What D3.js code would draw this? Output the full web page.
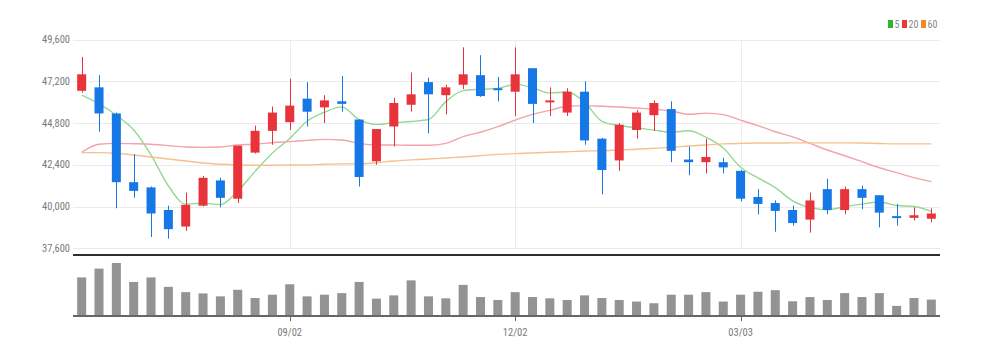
<!DOCTYPE html>
<html>
<head>
<meta charset="utf-8">
<script src="https://cdn.jsdelivr.net/npm/d3@7/dist/d3.min.js"></script>
<style>
  html, body { margin: 0; padding: 0; background: #fff; }
  svg { display: block; }
  text { font-family: "Liberation Sans Narrow", "Roboto Condensed", "Liberation Sans", Arial, sans-serif; }
</style>
</head>
<body>
<svg id="chart" width="986" height="355"></svg>
<script>
const dates = [
  "2024-06-10","2024-06-17","2024-06-24","2024-07-01","2024-07-08","2024-07-15","2024-07-22","2024-07-29",
  "2024-08-05","2024-08-12","2024-08-19","2024-08-26","2024-09-02","2024-09-09","2024-09-16","2024-09-23",
  "2024-09-30","2024-10-07","2024-10-14","2024-10-21","2024-10-28","2024-11-04","2024-11-11","2024-11-18",
  "2024-11-25","2024-12-02","2024-12-09","2024-12-16","2024-12-23","2024-12-30","2025-01-06","2025-01-13",
  "2025-01-20","2025-01-27","2025-02-03","2025-02-10","2025-02-17","2025-02-24","2025-03-03","2025-03-10",
  "2025-03-17","2025-03-24","2025-03-31","2025-04-07","2025-04-14","2025-04-21","2025-04-28","2025-05-05",
  "2025-05-12","2025-05-19"
];
const openP = [46650,46850,45350,41400,41100,39800,38850,40050,41500,40450,43100,44350,44850,46200,45700,46050,
  45000,42600,44600,45850,47150,46400,47000,47550,46800,46600,47950,46000,45400,46600,43900,42650,44400,45250,
  45600,42700,42550,42550,42050,40550,40200,39800,39250,41000,39800,41000,40650,39450,39350,39300];
const highP = [48600,47550,45400,43000,41150,40050,40800,41750,41650,43500,44650,45750,47350,47150,46400,47500,
  45000,44450,46250,47700,47400,47000,49150,48700,47450,49150,47950,46850,46800,47200,43950,44800,45550,46100,
  46050,43450,43900,42800,42100,41000,40350,40050,40800,41600,41150,41200,40650,40150,39950,39900];
const lowP = [46550,44300,39900,40500,38250,38150,38600,40000,39950,40200,43050,43550,44400,44600,44800,45450,
  41150,42400,43450,45450,44200,45300,46750,46300,46050,45200,44800,45200,45200,43550,40700,42050,43900,44350,
  42550,41800,41900,41900,40300,39550,38550,38900,38500,39550,39550,39850,38800,38900,39200,39100];
const closeP = [47600,45350,41400,40900,39600,38700,40100,41650,40500,43500,44350,45400,45800,45450,46100,45900,
  41700,44450,45950,46450,46450,46850,47600,46350,46700,47600,45900,46100,46600,43800,42100,44700,45400,45950,
  43200,42550,42850,42250,40450,40150,39750,39050,40350,39800,41000,40500,39650,39350,39500,39600];
const volume = [383,473,530,337,383,287,233,220,190,257,173,207,313,190,207,223,337,167,200,353,190,170,307,183,
  153,233,183,170,153,200,173,153,137,120,207,207,233,137,207,237,253,140,183,153,223,183,223,93,173,157];
const ma5 = [46400,45900,45250,44400,42970,41190,40140,40190,40110,40890,42020,43080,43910,44900,45420,45730,
  44990,44720,44820,44890,45000,46030,46660,46740,46790,47020,46830,46530,46580,46000,44900,44660,44520,44390,
  44270,44360,43990,43360,42260,41650,41090,40330,39950,39820,39990,40140,40260,40060,40000,39720];
const ma20 = [43120,43580,43630,43610,43580,43500,43420,43400,43420,43540,43580,43670,43730,43800,43860,43820,
  43630,43540,43540,43520,43520,43630,44020,44270,44590,44970,45300,45530,45760,45800,45760,45720,45660,45600,
  45490,45300,45370,45280,44970,44650,44300,44000,43630,43250,42920,42580,42230,41950,41660,41430];
const ma60 = [43100,43100,43060,42960,42850,42730,42620,42500,42430,42390,42370,42370,42390,42390,42430,42450,
  42460,42520,42620,42680,42730,42790,42850,42920,43000,43040,43080,43120,43150,43190,43210,43250,43290,43350,
  43400,43480,43540,43600,43630,43650,43650,43660,43660,43660,43660,43650,43620,43600,43600,43600];
const yTicks = [37600,40000,42400,44800,47200,49600];
const xTickDates = ["2024-09-02","2024-12-02","2025-03-03"];
const maNames = ["5","20","60"];
const maColors = ["#2db52d","#e83838","#f08c28"];
const maLineColors = ["#93d993","#f3a3aa","#f6c18f"];

const svg = d3.select("#chart");
const L = 73, R = 940;
const x = d3.scaleBand().domain(dates).range([L, R]).paddingInner(0.48).paddingOuter(0.24);
const y = d3.scaleLinear().domain([37600, 49600]).range([248.3, 39.5]);
const yv = d3.scaleLinear().domain([0, d3.max(volume)]).range([315, 263]);
const cx = d => x(d) + x.bandwidth() / 2;

// horizontal gridlines
svg.append("g").selectAll("line").data(yTicks).join("line")
  .attr("x1", L).attr("x2", R).attr("y1", d => Math.round(y(d)) + 0.5).attr("y2", d => Math.round(y(d)) + 0.5)
  .attr("stroke", "#ebebeb").attr("stroke-width", 1);
// vertical gridlines
svg.append("g").selectAll("line").data(xTickDates).join("line")
  .attr("x1", d => Math.round(cx(d)) + 0.5).attr("x2", d => Math.round(cx(d)) + 0.5)
  .attr("y1", y(49600)).attr("y2", y(37600))
  .attr("stroke", "#ececec").attr("stroke-width", 1);

// y axis labels
const fmt = d3.format(",");
svg.append("g").selectAll("text").data(yTicks).join("text")
  .attr("x", 70).attr("y", d => y(d)).attr("dy", "0.35em").attr("text-anchor", "end")
  .attr("font-size", 10.5).attr("fill", "#7a7a7a").text(d => fmt(d));

// MA lines
const idx = d3.range(dates.length);
[ma5, ma20, ma60].forEach((arr, k) => {
  const line = d3.line().x(i => cx(dates[i])).y(i => y(arr[i])).curve(d3.curveMonotoneX);
  svg.append("path").datum(idx).attr("d", line).attr("fill", "none")
    .attr("stroke", maLineColors[k]).attr("stroke-width", 1.4);
});

// candles
const up = "#e8333b", down = "#1677e6";
const cg = svg.append("g");
idx.forEach(i => {
  const c = closeP[i] >= openP[i] ? up : down;
  const xc = Math.round(cx(dates[i])) + 0.5;
  cg.append("line").attr("x1", xc).attr("x2", xc).attr("y1", y(highP[i])).attr("y2", y(lowP[i]))
    .attr("stroke", c).attr("stroke-width", 1);
  const top = y(Math.max(openP[i], closeP[i])), bot = y(Math.min(openP[i], closeP[i]));
  cg.append("rect").attr("x", x(dates[i])).attr("width", x.bandwidth())
    .attr("y", top).attr("height", Math.max(2, bot - top)).attr("fill", c);
});

// separator line
svg.append("line").attr("x1", L).attr("x2", R).attr("y1", 255).attr("y2", 255)
  .attr("stroke", "#2e2e2e").attr("stroke-width", 2);

// volume bars
svg.append("g").selectAll("rect").data(idx).join("rect")
  .attr("x", i => x(dates[i])).attr("width", x.bandwidth())
  .attr("y", i => yv(volume[i])).attr("height", i => yv(0) - yv(volume[i]))
  .attr("fill", "#939393");

// volume baseline & x axis
svg.append("line").attr("x1", L).attr("x2", R).attr("y1", 316).attr("y2", 316)
  .attr("stroke", "#666").attr("stroke-width", 2);
svg.append("g").selectAll("line").data(xTickDates).join("line")
  .attr("x1", d => Math.round(cx(d)) + 0.5).attr("x2", d => Math.round(cx(d)) + 0.5)
  .attr("y1", 316).attr("y2", 321).attr("stroke", "#666").attr("stroke-width", 1);
svg.append("g").selectAll("text").data(xTickDates).join("text")
  .attr("x", d => cx(d)).attr("y", 332).attr("dy", "0.35em").attr("text-anchor", "middle")
  .attr("font-size", 10.5).attr("fill", "#7a7a7a").text(d => d.slice(5, 7) + "/" + d.slice(8, 10));

// legend
const lg = svg.append("g");
const lx = [888, 902, 921];
maNames.forEach((n, k) => {
  lg.append("rect").attr("x", lx[k]).attr("y", 20).attr("width", 5).attr("height", 8).attr("fill", maColors[k]);
  lg.append("text").attr("x", lx[k] + 6.5).attr("y", 24).attr("dy", "0.35em")
    .attr("font-size", 10).attr("fill", "#888").text(n);
});
</script>
</body>
</html>
